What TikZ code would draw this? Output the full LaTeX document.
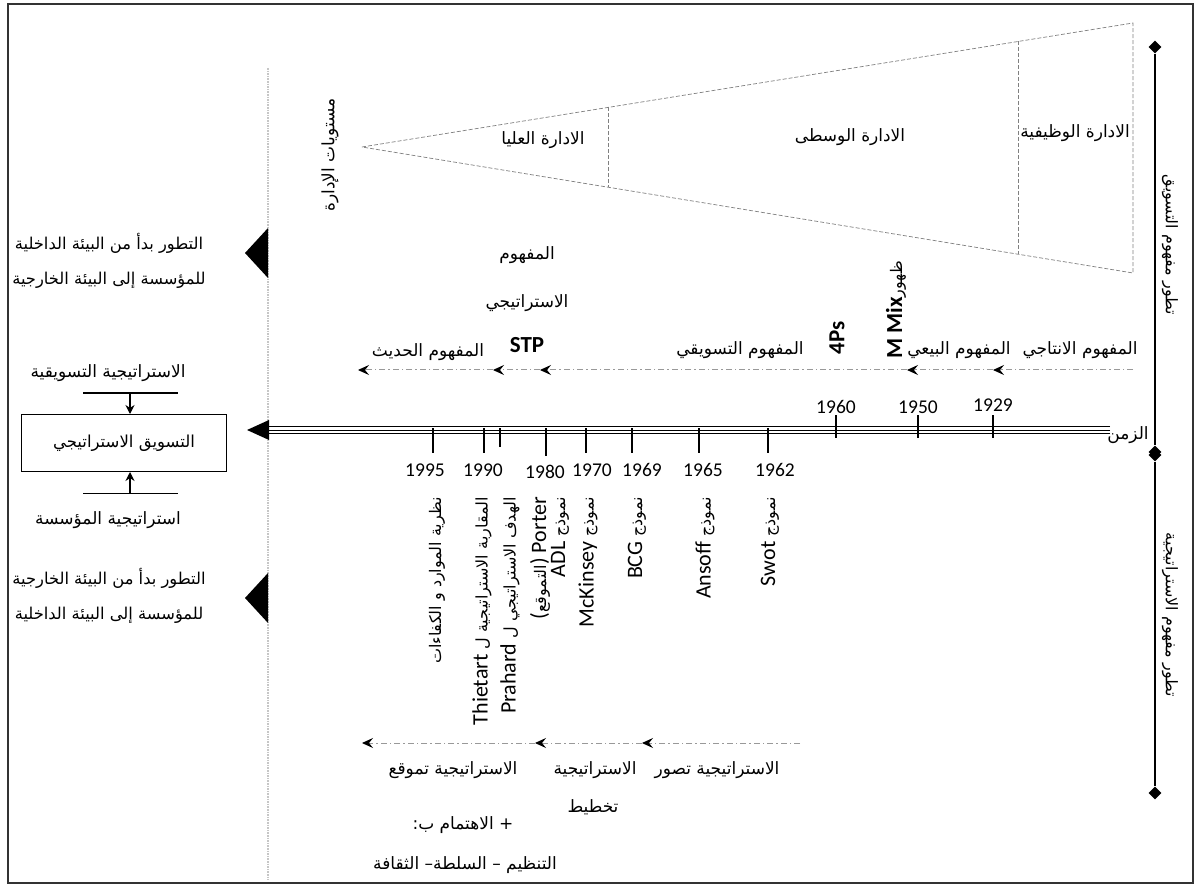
\documentclass[tikz,border=0pt]{standalone}
\usepackage{fontspec}
\setmainfont{Carlito}
\newfontfamily\arfont[Script=Arabic]{DejaVu Sans}
\TeXXeTstate=1
\usetikzlibrary{arrows.meta,shapes.geometric}
\newcommand\artx[1]{{\arfont\beginR #1\endR}}
\newcommand\arrot[1]{{\fontsize{16}{18}\selectfont\artx{#1}}}
\begin{document}
\begin{tikzpicture}[x=1pt,y=-1pt,
  arl/.style={inner sep=0pt, font=\fontsize{17}{19}\selectfont},
  arleft/.style={inner sep=0pt, font=\fontsize{16.3}{18}\selectfont},
  arsm/.style={inner sep=0pt, font=\fontsize{16}{18}\selectfont},
  yr/.style={inner sep=0pt, font=\fontsize{19.5}{21}\selectfont},
  rot/.style={inner sep=0pt, rotate=90, anchor=east, font=\fontsize{22}{24}\selectfont},
  bigb/.style={inner sep=0pt, font=\bfseries\fontsize{23}{25}\selectfont},
  tri/.style={dashed, dash pattern=on 4pt off 2pt, gray, line width=0.7pt},
  dd/.style={gray!80, line width=1pt, dash pattern=on 6pt off 3pt on 1.5pt off 3pt, -{Stealth[length=11pt,width=10pt,inset=4pt,black]}},
  tick/.style={line width=1.1pt},
  dia/.style={diamond, fill=black, inner sep=0pt, minimum size=13pt}
]
\useasboundingbox (0,0) rectangle (1200,885);
\fill[white] (0,0) rectangle (1200,885);
\draw[line width=1.2pt, black!80] (8,4) rectangle (1193,883);

% vertical dotted separator
\coordinate (vt) at (268,68);
\coordinate (vb) at (268,880);
\draw[gray!45, line width=1.6pt, densely dotted] (vt) -- (vb);

% management levels triangle
\coordinate (apex) at (362,147);
\coordinate (trc) at (1133,23);
\coordinate (brc) at (1133,273);
\draw[tri] (apex) -- (trc) -- (brc) -- cycle;
\coordinate (d1t) at (608,107.4);
\coordinate (d1b) at (608,187.2);
\coordinate (d2t) at (1018,41.5);
\coordinate (d2b) at (1018,254.2);
\draw[tri] (d1t) -- (d1b);
\draw[tri] (d2t) -- (d2b);
\node[arl] (mtop) at (543,140) {\artx{الادارة العليا}};
\node[arl] (mmid) at (850,137) {\artx{الادارة الوسطى}};
\node[arl] (mfun) at (1075,133) {\artx{الادارة الوظيفية}};
\node[arl, rotate=90] (mlev) at (330,155) {\artx{مستويات الإدارة}};

% concept row
\node[arl] (cs1) at (527,255) {\artx{المفهوم}};
\node[arl] (cs2) at (527,303) {\artx{الاستراتيجي}};
\node[bigb] (stp) at (527,345) {STP};
\node[arl] (cmod) at (428,352) {\artx{المفهوم الحديث}};
\node[arl] (cmkt) at (740,350) {\artx{المفهوم التسويقي}};
\node[arl] (csal) at (959,350) {\artx{المفهوم البيعي}};
\node[arl] (cprd) at (1080,350) {\artx{المفهوم الانتاجي}};
\node[bigb, rotate=90] (fourps) at (837,338) {4Ps};
\node[inner sep=0pt, rotate=90] (mmix) at (896,310) {{\bfseries\fontsize{23}{25}\selectfont M Mix}{\fontsize{16}{18}\selectfont\artx{ظهور}}};

\coordinate (c0) at (1133,370);
\coordinate (c1) at (993,370);
\coordinate (c2) at (907,370);
\coordinate (c3) at (540,370);
\coordinate (c4) at (493,370);
\coordinate (c5) at (358,370);
\draw[dd] (c0) -- (c1);
\draw[dd] (c1) -- (c2);
\draw[dd] (c2) -- (c3);
\draw[dd] (c3) -- (c4);
\draw[dd] (c4) -- (c5);

% time axis
\coordinate (axR) at (1110,430);
\coordinate (axS) at (262,430);
\coordinate (axT) at (247,430);
\draw[line width=0.8pt] ([yshift=-3.5pt]axR) -- ([yshift=-3.5pt]axS);
\draw[line width=0.8pt] (axR) -- (axS);
\draw[line width=0.8pt] ([yshift=3.5pt]axR) -- ([yshift=3.5pt]axS);
\fill (axT) -- ++(22,-10) -- ++(0,20) -- cycle;
\node[arl] (zmn) at (1128,435) {\artx{الزمن}};

% ticks above
\foreach \x/\n in {836/t1960,918/t1950,993/t1929}{
  \coordinate (\n a) at (\x,415); \coordinate (\n b) at (\x,438);
  \draw[tick] (\n a) -- (\n b);}
\node[yr] (y1960) at (836,407) {1960};
\node[yr] (y1950) at (918,407) {1950};
\node[yr] (y1929) at (993,405) {1929};
% ticks below
\foreach \x/\e/\n in {433/453/t1995,484/453/t1990,500/447/t1990b,546/456/t1980,586/453/t1970,632/453/t1969,699/453/t1965,768/453/t1962}{
  \coordinate (\n a) at (\x,428); \coordinate (\n b) at (\x,\e);
  \draw[tick] (\n a) -- (\n b);}
\node[yr] (y1995) at (425,470) {1995};
\node[yr] (y1990) at (483,470) {1990};
\node[yr] (y1980) at (545,472) {1980};
\node[yr] (y1970) at (592,470) {1970};
\node[yr] (y1969) at (642,470) {1969};
\node[yr] (y1965) at (703,470) {1965};
\node[yr] (y1962) at (775,470) {1962};

% rotated model labels
\node[rot] (l1995) at (437,497) {\arrot{نظرية الموارد و الكفاءات}};
\node[rot] (l1990a) at (482,497) {Thietart \arrot{المقاربة الاستراتيجية ل}};
\node[rot] (l1990b) at (510,497) {Prahard \arrot{الهدف الاستراتيجي ل}};
\node[rot] (lport) at (540,497) {(\arrot{التموقع}) Porter};
\node[rot] (ladl) at (560,497) {ADL \arrot{نموذج}};
\node[rot] (lmck) at (588,497) {McKinsey \arrot{نموذج}};
\node[rot] (lbcg) at (637,497) {BCG \arrot{نموذج}};
\node[rot] (lans) at (705,497) {Ansoff \arrot{نموذج}};
\node[rot] (lswt) at (770,497) {Swot \arrot{نموذج}};

% strategy row
\coordinate (s0) at (800,743);
\coordinate (s1) at (642,743);
\coordinate (s2) at (535,743);
\coordinate (s3) at (362,743);
\draw[dd] (s0) -- (s1);
\draw[dd] (s1) -- (s2);
\draw[dd] (s2) -- (s3);
\node[arl] (sconc) at (717,770) {\artx{الاستراتيجية تصور}};
\node[arl] (splan1) at (595,770) {\artx{الاستراتيجية}};
\node[arl] (splan2) at (593,807) {\artx{تخطيط}};
\node[arl] (spos) at (453,770) {\artx{الاستراتيجية تموقع}};
\node[arl] (sint) at (463,825) {\artx{+ الاهتمام ب:}};
\node[arl] (sorg) at (465,865) {\artx{التنظيم – السلطة– الثقافة}};

% right side time bars
\node[dia] (r1t) at (1155,47) {};
\node[dia] (r1b) at (1155,452) {};
\node[dia] (r2t) at (1155,455) {};
\node[dia] (r2b) at (1155,793) {};
\draw[line width=1.3pt] (r1t) -- (r1b);
\draw[line width=1.3pt] (r2t) -- (r2b);
\node[arsm, rotate=-90] (rmkt) at (1170,245) {\artx{تطور مفهوم التسويق}};
\node[arsm, rotate=-90] (rstr) at (1170,615) {\artx{تطور مفهوم الاستراتيجية}};

% left side
\coordinate (lt1) at (245,253);
\fill (lt1) -- (268,228) -- (268,278) -- cycle;
\coordinate (lt2) at (245,598);
\fill (lt2) -- (268,573) -- (268,623) -- cycle;
\node[arleft] (le1) at (109,243) {\artx{التطور بدأ من البيئة الداخلية}};
\node[arleft] (le2) at (109,280) {\artx{للمؤسسة إلى البيئة الخارجية}};
\node[arleft] (le3) at (109,578) {\artx{التطور بدأ من البيئة الخارجية}};
\node[arleft] (le4) at (109,615) {\artx{للمؤسسة إلى البيئة الداخلية}};

\node[arl] (lms) at (108,373) {\artx{الاستراتيجية التسويقية}};
\node[draw, line width=1pt, minimum width=205pt, minimum height=57pt, inner sep=0pt, font=\fontsize{16.5}{18}\selectfont] (sm) at (124,443) {\artx{التسويق الاستراتيجي}};
\node[arl] (lcs) at (108,520) {\artx{استراتيجية المؤسسة}};
\coordinate (h1a) at (83,393); \coordinate (h1b) at (178,393);
\coordinate (h2a) at (83,493); \coordinate (h2b) at (178,493);
\draw[line width=1pt] (h1a) -- (h1b);
\draw[line width=1pt] (h2a) -- (h2b);
\coordinate (ar1) at (130,393);
\coordinate (ar2) at (130,493);
\draw[line width=1.2pt, -{Stealth[length=9pt,width=9pt]}] (ar1) -- (ar1 |- sm.north);
\draw[line width=1.2pt, -{Stealth[length=9pt,width=9pt]}] (ar2) -- (ar2 |- sm.south);
\end{tikzpicture}
\end{document}
